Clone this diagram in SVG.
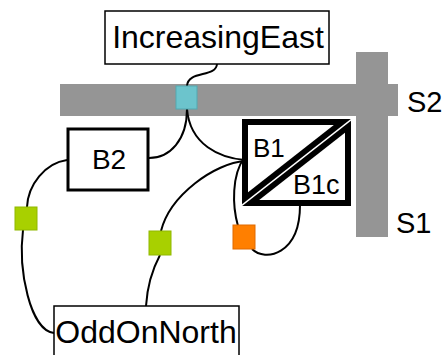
<svg xmlns="http://www.w3.org/2000/svg" width="445" height="355" viewBox="0 0 445 355">
<style>
text{font-family:"Liberation Sans",Arial,sans-serif;fill:#000}
.bar{fill:#959595}
.box{fill:#fff;stroke:#000}
.edge{fill:none;stroke:#000;stroke-width:2}
.green{fill:#a8d000;stroke:#90b800;stroke-width:1}
</style>
<defs>
<clipPath id="b1clip"><rect x="242" y="119" width="109" height="87"/></clipPath>
</defs>
<rect width="445" height="355" fill="#fff"/>
<g id="S2"><rect class="bar" x="60" y="84" width="338" height="32"/><text x="407" y="112" font-size="29">S2</text></g>
<g id="S1"><rect class="bar" x="356" y="52" width="32" height="185"/><text x="396" y="233" font-size="29">S1</text></g>
<g id="connectors">
<path class="edge" d="M217,64 C216,78 188,70 187,86"/>
<path class="edge" d="M187,109 C187,140 170,158 149,158"/>
<path class="edge" d="M187,109 C190,145 220,158 245,160"/>
<path class="edge" d="M245,161 C215,163 170,195 161,231"/>
<path class="edge" d="M160,255 C152,270 147,290 146,306"/>
<path class="edge" d="M67,160 C45,163 28,185 27,207"/>
<path class="edge" d="M23,230 C18,270 30,330 54,333"/>
<path class="edge" d="M244,158 C232,175 232,205 238,226"/>
<path class="edge" d="M252,249 C265,262 300,255 300,205"/>
</g>
<g id="IncreasingEast"><rect class="box" x="105" y="11" width="224" height="53" stroke-width="1.5"/><text x="218" y="48" font-size="32" text-anchor="middle">IncreasingEast</text></g>
<g id="B2"><rect class="box" x="68" y="129" width="80" height="61" stroke-width="3"/><text x="109" y="169" font-size="28" text-anchor="middle">B2</text></g>
<g id="B1">
<rect class="box" x="245" y="122" width="103" height="81" stroke-width="6"/>
<g clip-path="url(#b1clip)">
<line x1="352" y1="119" x2="241" y2="206" stroke="#000" stroke-width="13"/>
<line x1="352" y1="119" x2="241" y2="206" stroke="#fff" stroke-width="1.5"/>
</g>
<text x="253" y="157" font-size="26">B1</text>
</g>
<g id="B1c"><text x="293" y="194" font-size="27">B1c</text></g>
<g id="port-S2"><rect x="176" y="86" width="21" height="23" fill="#6cc4cc" stroke="#52a9b1" stroke-width="1"/></g>
<g id="port-B2"><rect class="green" x="15" y="207" width="22" height="23"/></g>
<g id="port-B1"><rect class="green" x="149" y="231" width="22" height="24"/></g>
<g id="port-B1c"><rect x="233" y="225" width="22" height="24" fill="#ff7f00" stroke="#e06a00" stroke-width="1"/></g>
<g id="OddOnNorth"><rect class="box" x="54" y="306" width="185" height="60" stroke-width="1.5"/><text x="146" y="343" font-size="32" text-anchor="middle">OddOnNorth</text></g>
</svg>
